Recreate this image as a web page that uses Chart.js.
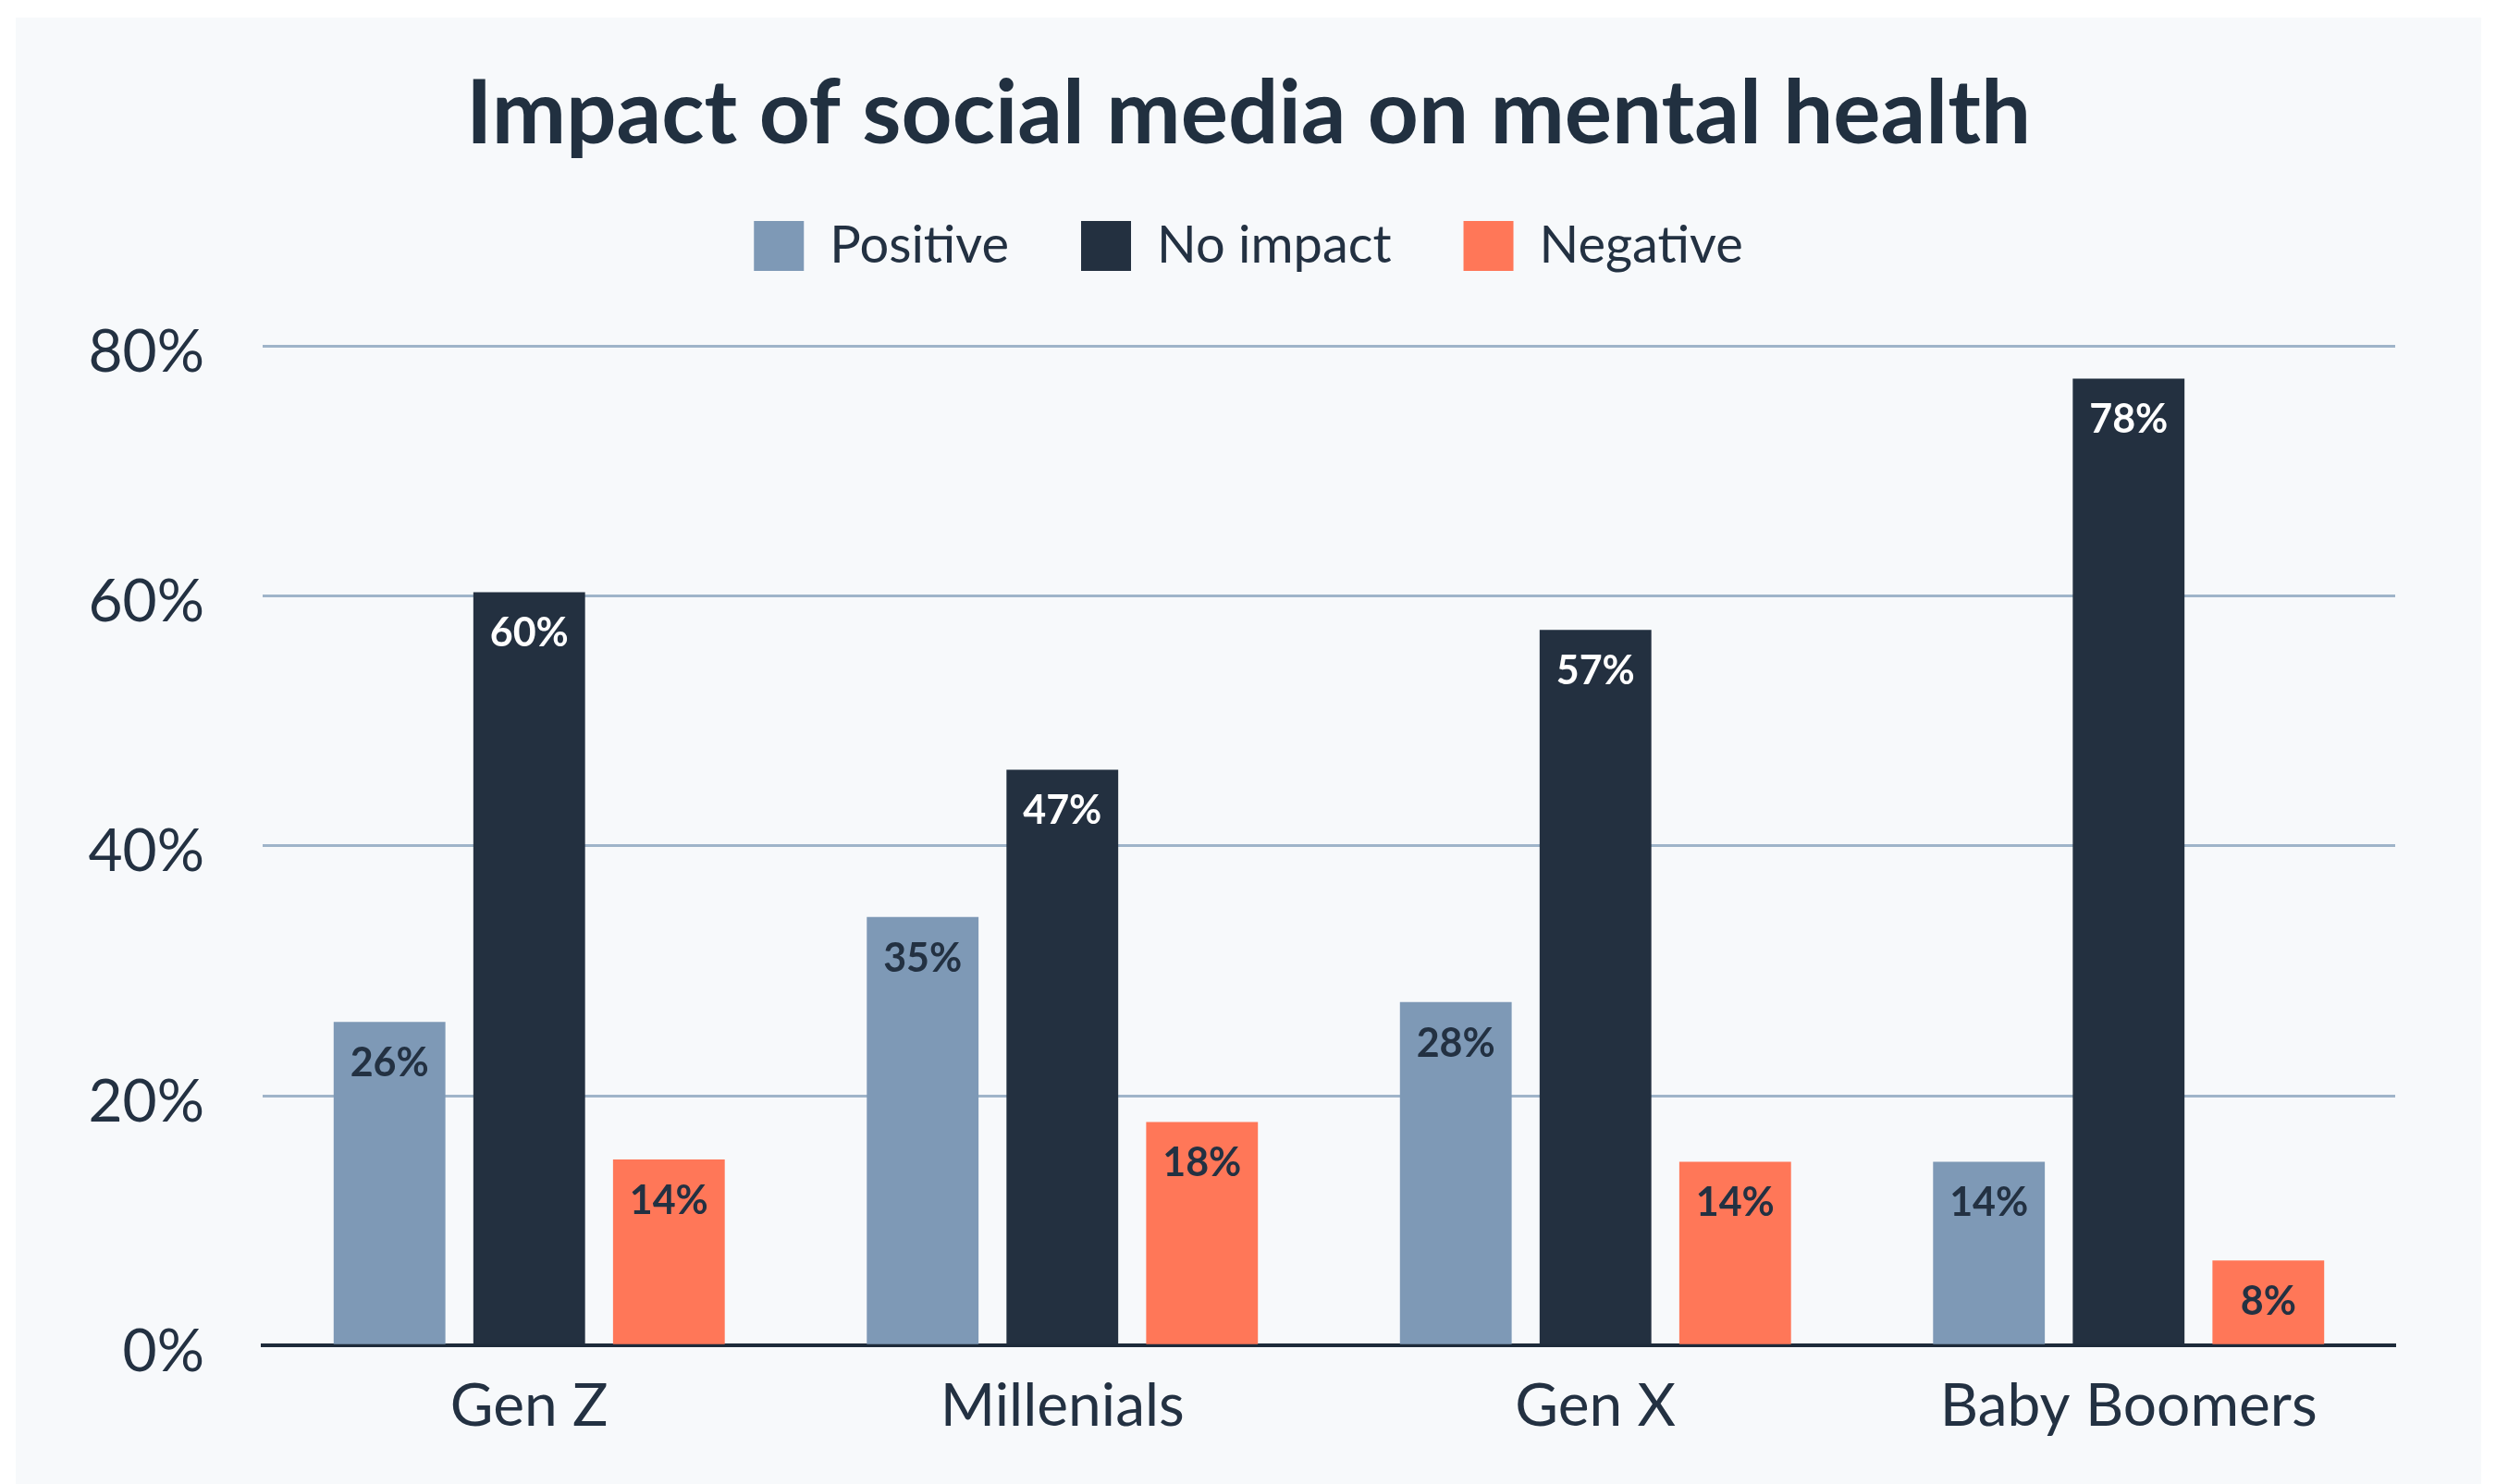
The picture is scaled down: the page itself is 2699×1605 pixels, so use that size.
<!DOCTYPE html>
<html><head><meta charset="utf-8">
<script src="https://cdn.jsdelivr.net/npm/chart.js@4.4.1/dist/chart.umd.min.js"></script>
<style>
html,body{margin:0;padding:0;background:#ffffff;width:2699px;height:1605px;overflow:hidden}
#panel{position:absolute;left:17px;top:19px;width:2666px;height:1586px;background:#f7f9fb}
canvas{display:block}
</style></head><body>
<div id="panel"><canvas id="c"></canvas></div>
<script>
// ---- data ----
const categories = ['Gen Z', 'Millenials', 'Gen X', 'Baby Boomers'];
const seriesNames = ['Positive', 'No impact', 'Negative'];
const positiveValues = [25.9, 34.3, 27.5, 14.7];
const noImpactValues = [60.3, 46.1, 57.3, 77.4];
const negativeValues = [14.9, 17.9, 14.7, 6.8];
const positiveLabels = ['26%', '35%', '28%', '14%'];
const noImpactLabels = ['60%', '47%', '57%', '78%'];
const negativeLabels = ['14%', '18%', '14%', '8%'];
const yTickValues = [0, 20, 40, 60, 80];
const chartTitle = 'Impact of social media on mental health';

// ---- styles ----
const FONT = 'Lato';
const TEXT = '#233142';

const barLabels = {
  id: 'barLabels',
  afterDatasetsDraw(chart) {
    const ctx = chart.ctx;
    chart.data.datasets.forEach((ds, di) => {
      const meta = chart.getDatasetMeta(di);
      meta.data.forEach((bar, i) => {
        ctx.save();
        ctx.font = 'bold 43px ' + FONT;
        ctx.fillStyle = ds.labelColor;
        ctx.textAlign = 'center';
        ctx.textBaseline = 'middle';
        ctx.fillText(ds.valueLabels[i], bar.x, bar.y + 45);
        ctx.restore();
      });
    });
  }
};

new Chart(document.getElementById('c'), {
  type: 'bar',
  data: {
    labels: categories,
    datasets: [
      { label: seriesNames[0], data: positiveValues, valueLabels: positiveLabels, labelColor: '#233142',
        backgroundColor: '#7e99b6', borderWidth: 0, xAxisID: 'x', yAxisID: 'y' },
      { label: seriesNames[1], data: noImpactValues, valueLabels: noImpactLabels, labelColor: '#ffffff',
        backgroundColor: '#233040', borderWidth: 0, xAxisID: 'x', yAxisID: 'y' },
      { label: seriesNames[2], data: negativeValues, valueLabels: negativeLabels, labelColor: '#233142',
        backgroundColor: '#ff7758', borderWidth: 0, xAxisID: 'x', yAxisID: 'y' }
    ]
  },
  options: {
    responsive: true,
    maintainAspectRatio: false,
    animation: false,
    devicePixelRatio: 1,
    barPercentage: 0.8,
    categoryPercentage: 0.786,
    layout: { padding: { top: 0, left: 0, right: 0, bottom: 17 } },
    plugins: {
      title: {
        display: true,
        text: chartTitle,
        color: '#213040',
        font: { family: FONT, size: 96, weight: 'bold', lineHeight: 0.75 },
        padding: { top: 69, bottom: 0 }
      },
      legend: {
        display: true,
        position: 'top',
        labels: {
          color: TEXT,
          font: { family: FONT, size: 56 },
          boxWidth: 54,
          boxHeight: 54,
          padding: 78
        }
      },
      tooltip: { enabled: false }
    },
    scales: {
      x: {
        type: 'category',
        position: 'bottom',
        z: 1,
        grid: { display: false, drawTicks: false },
        border: { display: true, color: '#1e2b3a', width: 4 },
        ticks: { color: TEXT, font: { family: FONT, size: 64 }, padding: 28, maxRotation: 0 }
      },
      xTop: {
        type: 'category',
        position: 'top',
        display: true,
        grid: { display: false, drawTicks: false },
        border: { display: false },
        ticks: { display: false },
        afterFit(s) { s.height = 70.5; }
      },
      y: {
        type: 'linear',
        position: 'left',
        min: 0,
        max: 80,
        grid: { color: '#9fb4c9', lineWidth: 3, drawTicks: false },
        border: { display: false },
        afterBuildTicks(s) { s.ticks = yTickValues.map(v => ({ value: v })); },
        afterFit(s) { s.width = 267; },
        ticks: {
          color: TEXT,
          font: { family: FONT, size: 64 },
          padding: 63,
          labelOffset: 7,
          callback: v => v + '%'
        }
      },
      yRight: {
        type: 'linear',
        position: 'right',
        display: true,
        grid: { display: false, drawTicks: false },
        border: { display: false },
        ticks: { display: false },
        afterFit(s) { s.width = 93; }
      }
    }
  },
  plugins: [barLabels]
});
</script>
</body></html>
